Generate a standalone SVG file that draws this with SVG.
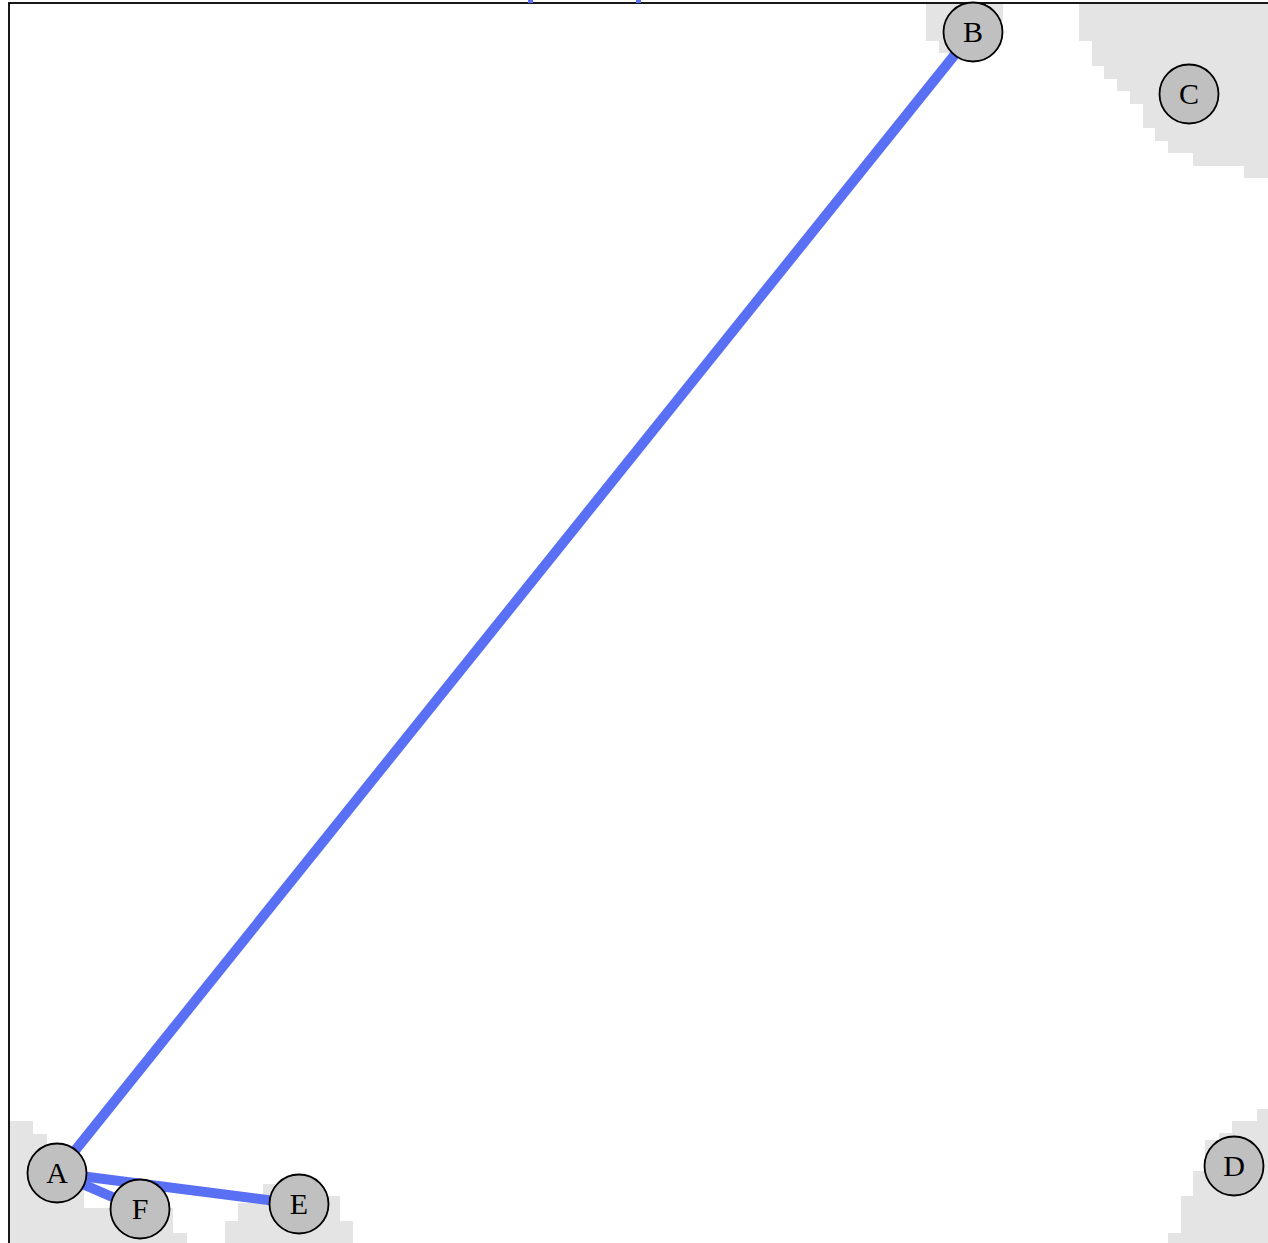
<svg xmlns="http://www.w3.org/2000/svg" width="1268" height="1243" viewBox="0 0 1268 1243">
<style>
.hull{fill:#e4e4e4;stroke:none}
.edge{stroke:#5970f5;stroke-width:10;stroke-linecap:butt;fill:none}
.node circle{fill:#c0c0c0;stroke:#000;stroke-width:1.8}
.node text{font-family:"Liberation Serif","Times New Roman",serif;font-size:30px;fill:#000;text-anchor:middle}
.frame{fill:none;stroke:#000;stroke-width:1.8}
.tick{fill:#5970f5}
</style>
<rect width="1268" height="1243" fill="#fff"/>
<g id="hulls">
<polygon class="hull" points="10,1121 33,1121 33,1134 47,1134 47,1180 84,1180 84,1208 173,1208 173,1233 187,1233 187,1243 10,1243"/>
<polygon class="hull" points="263,1184 320,1184 320,1196 340,1196 340,1221 353,1221 353,1243 225,1243 225,1221 238,1221 238,1203 263,1203"/>
<polygon class="hull" points="926,4 1003,4 1003,20 970,45 960,53 939,53 939,41 926,41"/>
<polygon class="hull" points="1079,4 1268,4 1268,178 1244,178 1244,166 1193,166 1193,153 1168,153 1168,141 1155,141 1155,128 1143,128 1143,104 1130,104 1130,91 1117,91 1117,79 1104,79 1104,66 1092,66 1092,41 1079,41"/>
<polygon class="hull" points="1257,1109 1268,1109 1268,1243 1168,1243 1168,1233 1181,1233 1181,1196 1193,1196 1193,1171 1205,1171 1205,1140 1219,1140 1219,1133 1232,1133 1232,1121 1257,1121"/>
</g>
<rect class="frame" x="9" y="3" width="1300" height="1300"/>
<rect class="tick" x="528" y="0" width="5" height="3"/>
<rect class="tick" x="636" y="0" width="5" height="3"/>
<g id="edges">
<line class="edge" x1="57" y1="1173" x2="973" y2="32"/>
<line class="edge" x1="57" y1="1173" x2="299" y2="1204"/>
<line class="edge" x1="57" y1="1173" x2="140" y2="1209"/>
</g>
<g id="node-A" class="node"><circle cx="57" cy="1173" r="29.5"/><text x="57" y="1183">A</text></g>
<g id="node-B" class="node"><circle cx="973" cy="32" r="29.5"/><text x="973" y="42">B</text></g>
<g id="node-C" class="node"><circle cx="1189" cy="94" r="29.5"/><text x="1189" y="104">C</text></g>
<g id="node-D" class="node"><circle cx="1234" cy="1166" r="29.5"/><text x="1234" y="1176">D</text></g>
<g id="node-E" class="node"><circle cx="299" cy="1204" r="29.5"/><text x="299" y="1214">E</text></g>
<g id="node-F" class="node"><circle cx="140" cy="1209" r="29.5"/><text x="140" y="1219">F</text></g>
</svg>
